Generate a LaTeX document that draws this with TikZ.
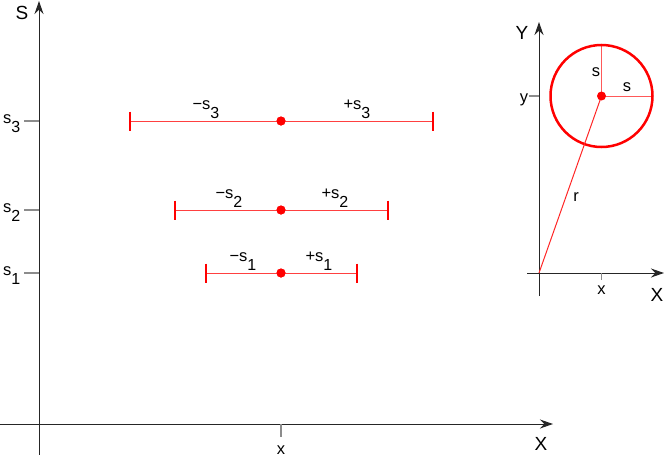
\documentclass[tikz,border=0pt]{standalone}
\usepackage{fontspec}
\setmainfont{Liberation Sans}
\usetikzlibrary{arrows.meta}
\newcommand{\mysub}[1]{\raisebox{-9pt}{\fontsize{16}{16}\selectfont #1}}
\begin{document}
\begin{tikzpicture}[x=1pt,y=-1pt,
  axis/.style={draw=black!85, line width=1pt},
  axarrow/.style={axis,-{Stealth[length=13pt,width=9pt]}},
  tickmark/.style={draw=black!45, line width=1.2pt},
  bigtxt/.style={font=\fontsize{19}{19}\selectfont, inner sep=0pt},
  smalltxt/.style={font=\fontsize{16.5}{16.5}\selectfont, inner sep=0pt},
  barline/.style={draw=red!75, line width=1pt},
  endtick/.style={draw=red, line width=2pt},
  dotnode/.style={circle, fill=red, inner sep=0pt, minimum size=9pt},
  radline/.style={draw=red!65, line width=1pt},
]
\useasboundingbox (0,0) rectangle (664,455);

% ---------- main axes ----------
\coordinate (Sbot) at (39,455);
\coordinate (Stop) at (39,1);
\coordinate (Xleft) at (0,424);
\coordinate (Xright) at (553,424);
\draw[axarrow] (Sbot) -- (Stop);
\draw[axarrow] (Xleft) -- (Xright);
\node[bigtxt] (Slab) at (22,13) {S};
\node[bigtxt] (Xlab) at (541,444) {X};

\coordinate (xt0) at (281,424);
\coordinate (xt1) at (281,437);
\draw[tickmark] (xt0) -- (xt1);
\node[smalltxt, anchor=base] (xlab) at (281,454) {x};

% ---------- left ticks ----------
\foreach \yy/\k in {121/3, 210/2, 273/1} {
  \coordinate (tl\k) at (24,\yy);
  \coordinate (tr\k) at (39,\yy);
  \draw[tickmark] (tl\k) -- (tr\k);
  \node[smalltxt, anchor=base west] (sl\k) at (3,\yy+2) {s\mysub{\k}};
}

% ---------- bars ----------
\foreach \yy/\xl/\xr/\ml/\pl/\k in {121/130/433/206/357/3, 210/175/388/229/335/2, 273/206/357/243/319/1} {
  \coordinate (bl\k) at (\xl,\yy);
  \coordinate (br\k) at (\xr,\yy);
  \node[dotnode] (c\k) at (281,\yy) {};
  \draw[barline] (bl\k) -- (br\k);
  \coordinate (blt\k) at (\xl,\yy-9.5);
  \coordinate (blb\k) at (\xl,\yy+9.5);
  \coordinate (brt\k) at (\xr,\yy-9.5);
  \coordinate (brb\k) at (\xr,\yy+9.5);
  \draw[endtick] (blt\k) -- (blb\k);
  \draw[endtick] (brt\k) -- (brb\k);
  \node[dotnode] at (c\k) {};
  \node[smalltxt, anchor=base] (m\k) at (\ml,\yy-12) {−s\mysub{\k}};
  \node[smalltxt, anchor=base] (p\k) at (\pl,\yy-12) {+s\mysub{\k}};
}

% ---------- inset ----------
\coordinate (Ybot) at (539,296);
\coordinate (Ytop) at (539,22);
\coordinate (IXl) at (527,273);
\coordinate (IXr) at (664,273);
\coordinate (IO) at (539,273);
\draw[axarrow] (Ybot) -- (Ytop);
\draw[axarrow] (IXl) -- (IXr);
\node[bigtxt] (Ylab) at (522,33) {Y};
\node[bigtxt] (IXlab) at (657,295) {X};

\coordinate (ixt0) at (601.5,273);
\coordinate (ixt1) at (601.5,280);
\draw[tickmark] (ixt0) -- (ixt1);
\node[smalltxt] (ixlab) at (601.5,290) {x};

\coordinate (iyt0) at (529,96);
\coordinate (iyt1) at (539,96);
\draw[tickmark] (iyt0) -- (iyt1);
\node[smalltxt, anchor=base] (iylab) at (524,102) {y};

\coordinate (C) at (601.5,96);
\coordinate (Ctop) at (601.5,45);
\coordinate (Cright) at (652.5,96);
\draw[radline] (C) -- (Ctop);
\draw[radline] (C) -- (Cright);
\draw[draw=red, line width=2.5pt] (C) circle[radius=51];
\draw[radline, draw=red!85] (IO) -- (C);
\node[dotnode] (Cdot) at (C) {};
\node[smalltxt] (sv) at (596,72) {s};
\node[smalltxt] (sh) at (627,87) {s};
\node[smalltxt] (rlab) at (576,197) {r};
\end{tikzpicture}
\end{document}
